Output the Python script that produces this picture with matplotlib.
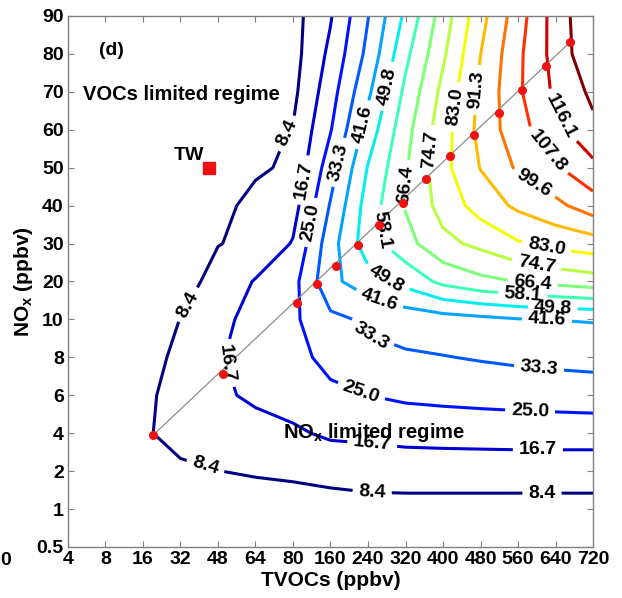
import numpy as np
import matplotlib
matplotlib.use('Agg')
import matplotlib.pyplot as plt

plt.rcParams['font.family'] = ['Liberation Sans', 'DejaVu Sans']
plt.rcParams['font.weight'] = 'bold'
plt.rcParams['axes.labelweight'] = 'bold'
plt.rcParams['mathtext.fontset'] = 'custom'
plt.rcParams['mathtext.rm'] = 'Liberation Sans:bold'
plt.rcParams['mathtext.default'] = 'rm'

# axis tick labels (the axes are evenly spaced by tick, not by value)
tvoc_ticks = ['4', '8', '16', '32', '48', '64', '80', '160', '240', '320',
              '400', '480', '560', '640', '720']
nox_ticks = ['0.5', '1', '2', '4', '6', '8', '10', '20', '30', '40',
             '50', '60', '70', '80', '90']

# isopleth levels (ppbv O3)
levels = [8.4, 16.7, 25.0, 33.3, 41.6, 49.8, 58.1, 66.4, 74.7, 83.0,
          91.3, 99.6, 107.8, 116.1, 124.4]

# O3 read off the isopleths at each grid node; one row per NOx tick,
# values along the TVOC ticks
o3_nox_0_5 = [0.3, 0.5, 0.8, 1.0, 1.2, 1.4, 1.5, 1.7, 1.8, 1.9, 2.0, 2.0, 2.0, 2.0, 2.0]
o3_nox_1 = [0.8, 1.5, 2.5, 3.0, 3.5, 3.7, 4.3, 5.0, 5.0, 5.0, 5.0, 5.0, 5.0, 5.0, 5.0]
o3_nox_2 = [1.5, 3.0, 6.0, 7.6, 8.3, 9.3, 10.0, 11.1, 12.6, 13.1, 13.1, 13.1, 13.1, 13.1, 13.1]
o3_nox_4 = [2.0, 4.0, 7.8, 10.0, 12.0, 14.0, 15.5, 18.0, 18.2, 18.8, 19.1, 19.3, 19.5, 19.5, 19.5]
o3_nox_6 = [1.8, 3.5, 6.9, 11.0, 15.4, 18.0, 20.0, 23.0, 25.0, 26.6, 27.4, 28.1, 28.7, 29.3, 29.9]
o3_nox_8 = [1.5, 3.0, 4.7, 10.5, 16.1, 19.5, 22.0, 27.8, 31.5, 32.4, 33.0, 33.9, 34.7, 35.2, 35.5]
o3_nox_10 = [1.2, 2.5, 5.0, 8.5, 14.0, 20.0, 23.5, 31.5, 34.5, 36.5, 38.2, 39.6, 41.2, 41.7, 42.2]
o3_nox_20 = [1.0, 2.0, 3.5, 5.7, 10.7, 17.3, 22.3, 39.5, 46.2, 52.5, 60.2, 64.3, 66.6, 69.0, 71.0]
o3_nox_30 = [0.8, 1.6, 2.8, 4.5, 8.2, 9.8, 17.3, 38.2, 54.4, 63.5, 72.5, 76.7, 82.2, 85.5, 87.5]
o3_nox_40 = [0.7, 1.4, 2.4, 3.8, 5.8, 11.0, 13.4, 34.0, 53.5, 67.0, 77.8, 86.6, 92.9, 97.5, 104.0]
o3_nox_50 = [0.6, 1.2, 2.0, 3.0, 4.5, 7.1, 9.9, 29.6, 50.3, 65.5, 80.6, 91.6, 100.8, 106.8, 114.0]
o3_nox_60 = [0.5, 1.1, 1.8, 2.7, 4.0, 6.2, 8.7, 24.5, 45.0, 63.5, 79.4, 93.8, 104.8, 113.5, 122.5]
o3_nox_70 = [0.5, 1.0, 1.6, 2.4, 3.5, 5.0, 6.5, 21.5, 40.0, 60.0, 77.0, 93.0, 106.5, 117.6, 126.2]
o3_nox_80 = [0.5, 1.0, 1.5, 2.2, 3.2, 4.5, 5.4, 18.6, 35.5, 56.0, 73.3, 91.2, 106.0, 119.2, 131.0]
o3_nox_90 = [0.5, 1.0, 1.5, 2.0, 3.0, 4.0, 5.5, 16.0, 33.0, 51.5, 70.3, 88.5, 104.0, 119.7, 131.7]

# ridge points (position on the tick scale)
ridge_x = [2.27, 4.13, 6.11, 6.64, 7.15, 7.73, 8.29, 8.93, 9.55, 10.19, 10.83, 11.49, 12.11, 12.75, 13.39]
ridge_y = [2.95, 4.56, 6.43, 6.93, 7.41, 7.96, 8.49, 9.07, 9.70, 10.31, 10.86, 11.44, 12.05, 12.68, 13.31]

# TW site: TVOC ~44 ppbv, NOx 50 ppbv
tw_x, tw_y = 3.76, 10.0

label_pos = [
    (5.84, 10.91), (3.31, 6.33), (3.65, 2.08), (8.11, 1.42), (12.64, 1.42),
    (6.24, 9.68), (4.32, 4.88), (8.11, 2.69), (12.53, 2.5),
    (6.4, 8.57), (7.84, 4.14), (12.32, 3.56),
    (7.31, 10.12), (8.11, 5.67), (12.56, 4.72),
    (7.87, 11.13), (8.27, 6.43), (12.77, 5.93),
    (8.59, 12.13), (8.45, 6.99), (12.93, 6.33),
    (8.37, 8.36), (12.13, 6.72),
    (9.07, 9.54), (12.4, 7.09),
    (9.65, 10.47), (12.51, 7.51),
    (10.32, 11.6), (12.77, 7.96),
    (10.93, 12.05),
    (12.4, 9.54),
    (12.72, 10.39),
    (13.12, 11.34),
]

Z = np.array([o3_nox_0_5, o3_nox_1, o3_nox_2, o3_nox_4, o3_nox_6, o3_nox_8,
              o3_nox_10, o3_nox_20, o3_nox_30, o3_nox_40, o3_nox_50, o3_nox_60,
              o3_nox_70, o3_nox_80, o3_nox_90])
gx = np.arange(len(tvoc_ticks))
gy = np.arange(len(nox_ticks))

fig = plt.figure(figsize=(6.22, 5.98), dpi=100)
ax = fig.add_axes([0.1093, 0.0853, 0.8441, 0.8880])

cs = ax.contour(gx, gy, Z, levels=levels, cmap='jet', linewidths=2.2)
ax.clabel(cs, manual=label_pos, inline=True, inline_spacing=6,
          fmt='%.1f', fontsize=14, colors='k')

ax.plot([ridge_x[0], ridge_x[-1]], [ridge_y[0], ridge_y[-1]],
        color='#8c8c8c', lw=0.9, zorder=3)
ax.plot(ridge_x, ridge_y, 'o', color='#ee1111', ms=5.5, mec='#ee1111', zorder=4)
ax.plot(tw_x, tw_y, 's', color='#ee1111', ms=8, zorder=4)
ax.text(tw_x - 0.53, tw_y + 0.33, 'TW', fontsize=14, fontweight='bold',
        ha='center', va='center')

ax.text(1.15, 13.08, '(d)', fontsize=14, fontweight='bold', ha='center', va='center')
ax.text(0.4, 11.92, 'VOCs limited regime', fontsize=14.5, fontweight='bold',
        ha='left', va='center')
ax.text(5.73, 3.03, 'NO$_{x}$ limited regime', fontsize=14.5, fontweight='bold',
        ha='left', va='center')

ax.set_xlim(0, 14)
ax.set_ylim(0, 14)
ax.set_xticks(gx)
ax.set_xticklabels(tvoc_ticks, fontweight='bold')
ax.set_yticks(gy)
ax.set_yticklabels(nox_ticks, fontweight='bold')
ax.tick_params(direction='in', length=4, width=0.8, color='#808080',
               top=True, right=True, labelsize=14, pad=3)
for s in ax.spines.values():
    s.set_color('#808080')
    s.set_linewidth(1.0)

ax.set_xlabel('TVOCs (ppbv)', fontsize=15, fontweight='bold', labelpad=2)
ax.set_ylabel('NO$_{x}$ (ppbv)', fontsize=15, fontweight='bold', labelpad=1)

fig.text(0.0, 0.0635, '0', fontsize=14, fontweight='bold', ha='left', va='center')

fig.savefig('out.png', dpi=100)
